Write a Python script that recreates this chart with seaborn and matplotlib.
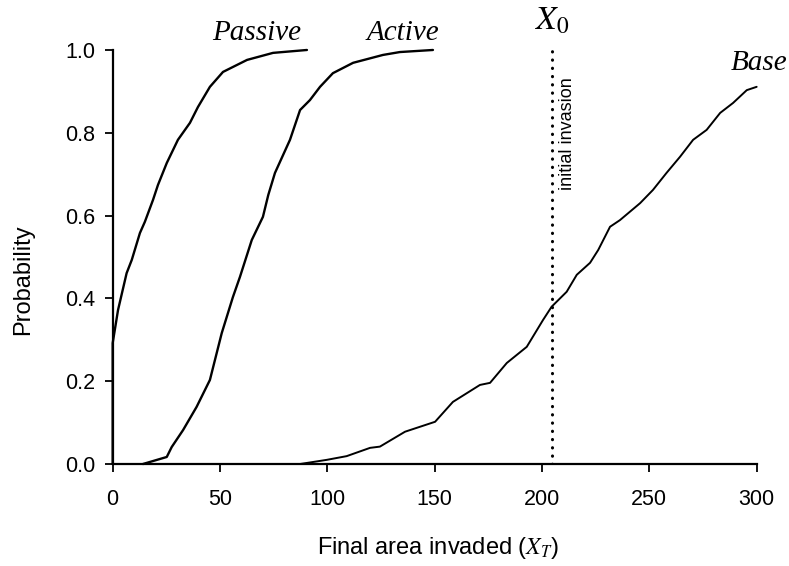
import matplotlib
matplotlib.use("Agg")
import matplotlib.pyplot as plt
import seaborn as sns
import pandas as pd

# ---- data ----
passive_x = [0, 0, 2.5, 6.5, 8.9, 12.7, 15.0, 18.8, 21.1, 25.2, 30.4, 36.0, 39.7,
             45.3, 51.4, 62.6, 74.7, 90.5]
passive_y = [0, 0.292, 0.372, 0.461, 0.493, 0.558, 0.585, 0.638, 0.674, 0.727, 0.783,
             0.824, 0.862, 0.911, 0.947, 0.976, 0.993, 1.0]

active_x = [14.1, 25.2, 27.5, 32.8, 39.1, 45.3, 50.8, 56.0, 59.3, 64.8, 70.0, 72.5,
            75.6, 82.6, 87.3, 91.9, 96.6, 102.6, 112.0, 125.9, 133.8, 149.2]
active_y = [0, 0.017, 0.041, 0.082, 0.138, 0.203, 0.316, 0.403, 0.452, 0.541, 0.597,
            0.650, 0.703, 0.783, 0.855, 0.879, 0.911, 0.944, 0.969, 0.988, 0.995, 1.0]

base_x = [87.3, 99.7, 109.0, 119.9, 124.5, 136.2, 150.2, 158.5, 171.1, 175.8, 183.6,
          192.9, 200.5, 204.5, 211.5, 216.2, 222.4, 226.2, 231.7, 236.3, 245.7, 251.7,
          258.0, 264.3, 270.4, 276.7, 283.0, 289.0, 295.4, 300.0]
base_y = [0, 0.010, 0.019, 0.039, 0.042, 0.078, 0.102, 0.150, 0.191, 0.196, 0.244,
          0.283, 0.348, 0.380, 0.416, 0.457, 0.486, 0.517, 0.573, 0.589, 0.630, 0.662,
          0.703, 0.742, 0.783, 0.807, 0.848, 0.872, 0.903, 0.911]

x0_value = 204.5
x_ticks = [0, 50, 100, 150, 200, 250, 300]
y_ticks = [0.0, 0.2, 0.4, 0.6, 0.8, 1.0]

# ---- style ----
sns.set_theme(style="ticks")
plt.rcParams["font.family"] = ["Liberation Sans", "DejaVu Sans"]
plt.rcParams["mathtext.fontset"] = "stix"

fig = plt.figure(figsize=(7.89, 5.66), dpi=100)
ax = fig.add_axes([0.1428, 0.1802, 0.959 - 0.1428, 0.9117 - 0.1802])

df_p = pd.DataFrame({"x": passive_x, "y": passive_y})
df_a = pd.DataFrame({"x": active_x, "y": active_y})
df_b = pd.DataFrame({"x": base_x, "y": base_y})

sns.lineplot(data=df_p, x="x", y="y", sort=False, estimator=None, color="black",
             linewidth=1.7, ax=ax, clip_on=False)
sns.lineplot(data=df_a, x="x", y="y", sort=False, estimator=None, color="black",
             linewidth=1.7, ax=ax, clip_on=False)
sns.lineplot(data=df_b, x="x", y="y", sort=False, estimator=None, color="black",
             linewidth=1.4, ax=ax, clip_on=False)

ax.vlines(x0_value, 0, 1.0, colors="black", linewidth=2.2,
          linestyles=[(0, (0.1, 2.6))])
for coll in ax.collections:
    coll.set_capstyle("round")

ax.set_xlim(0, 300)
ax.set_ylim(0, 1.0)
ax.set_xticks(x_ticks)
ax.set_xticklabels([str(t) for t in x_ticks])
ax.set_yticks(y_ticks)
ax.set_yticklabels([f"{t:.1f}" for t in y_ticks])

for s in ["top", "right"]:
    ax.spines[s].set_visible(False)
for s in ["left", "bottom"]:
    ax.spines[s].set_linewidth(1.6)
    ax.spines[s].set_color("black")

ax.tick_params(axis="both", direction="out", length=5.8, width=1.3, color="black",
               labelsize=15.5, labelcolor="black")
ax.tick_params(axis="x", pad=12)
ax.tick_params(axis="y", pad=7)

ax.set_xlabel(r"Final area invaded ($X_T$)", fontsize=17, color="black")
ax.set_ylabel("Probability", fontsize=17, color="black")
ax.xaxis.set_label_coords(0.5056, -0.172)
ax.yaxis.set_label_coords(-0.122, 0.444)

serif_it = dict(family="Liberation Serif", style="italic", fontsize=21, color="black")
ax.text(67, 1.025, "Passive", ha="center", va="baseline", clip_on=False, **serif_it)
ax.text(135, 1.025, "Active", ha="center", va="baseline", clip_on=False, **serif_it)
ax.text(301, 0.952, "Base", ha="center", va="baseline", clip_on=False, **serif_it)
ax.text(x0_value + 0.5, 1.05, r"$X_0$", ha="center", va="baseline", fontsize=24,
        color="black", clip_on=False)
ax.text(212.1, 0.935, "initial invasion", rotation=90, ha="center", va="top",
        fontsize=13, color="black")

fig.savefig("out.png", dpi=100)
